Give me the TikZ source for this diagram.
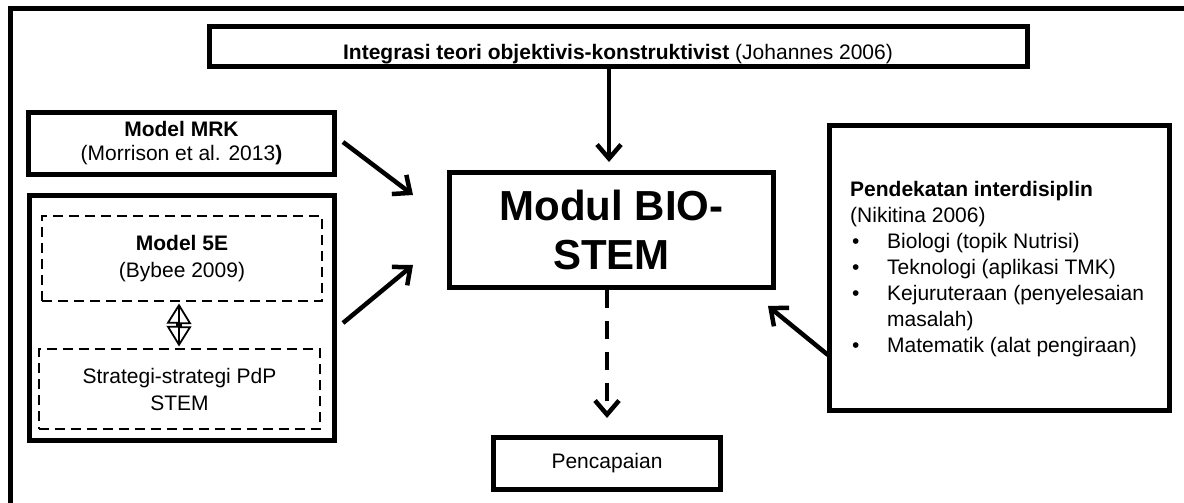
\documentclass[tikz,border=0pt]{standalone}
\usepackage{fontspec}
\setmainfont{Liberation Sans}
\usetikzlibrary{arrows.meta, positioning, calc}

\begin{document}
\begin{tikzpicture}[x=1pt, y=-1pt,
	kotak/.style={draw, line width=5pt, inner sep=0pt, align=center,
		font=\fontsize{21}{24}\selectfont},
	kotakputus/.style={draw, line width=2.5pt, dash pattern=on 10pt off 6pt,
		inner sep=0pt, align=center, font=\fontsize{21}{27}\selectfont},
	anak/.style={line width=4.5pt, -{Straight Barb[length=14pt, width=24pt]}},
	]
	\useasboundingbox (0,0) rectangle (1184,503);
	% bingkai luar
	\draw[line width=5pt] (1190,9) -- (10,9) -- (10,510);
	% kotak-kotak
	\node[kotak, minimum width=818, minimum height=40, text height=28pt, text depth=2pt]
		(integ) at (618,47) {\textbf{Integrasi teori objektivis-konstruktivist} (Johannes 2006)};
	\node[kotak, minimum width=306, minimum height=62]
		(mrk) at (181.5,143.5) {\textbf{Model MRK}\\(Morrison et al. 2013\textbf{)}};
	\node[kotak, minimum width=305, minimum height=245] (grp5e) at (182,318) {};
	\node[kotakputus, minimum width=280, minimum height=85]
		(m5e) at (182,258.5) {\textbf{Model 5E}\\(Bybee 2009)};
	\node[kotakputus, minimum width=281, minimum height=80]
		(strat) at (179.5,389) {Strategi-strategi PdP\\STEM};
	\node[kotak, minimum width=324, minimum height=115, font=\fontsize{42}{49}\selectfont\bfseries]
		(modul) at (611.5,230) {Modul BIO-\\STEM};
	\node[kotak, minimum width=227, minimum height=52] (pencap) at (607,463.5) {Pencapaian};
	\node[kotak, minimum width=340, minimum height=285] (pend) at (999.5,268) {};
	\node[anchor=north west, inner sep=0pt, align=left, font=\fontsize{21}{26}\selectfont]
		(pendteks) at (850,181.5) {\textbf{Pendekatan interdisiplin}\\
		(Nikitina 2006)\\
		\hspace*{2pt}\makebox[35pt][l]{\textbullet}Biologi (topik Nutrisi)\\
		\hspace*{2pt}\makebox[35pt][l]{\textbullet}Teknologi (aplikasi TMK)\\
		\hspace*{2pt}\makebox[35pt][l]{\textbullet}Kejuruteraan (penyelesaian\\
		\hspace*{37pt}masalah)\\
		\hspace*{2pt}\makebox[35pt][l]{\textbullet}Matematik (alat pengiraan)};
	% anak panah
	\draw[anak] ($(integ.south)+(-9,0)$) -- ($(modul.north)+(-2.5,-8)$);
	\draw[anak] ($(mrk.east)+(6,-1.5)$) -- ($(modul.west)+(-34,-35)$);
	\draw[anak] ($(grp5e.east)+(6,5)$) -- ($(modul.west)+(-34,35)$);
	\draw[anak] ($(pend.west)+(1,87)$) -- ($(modul.south east)+(-8,16)$);
	\draw[anak, dash pattern=on 18pt off 13pt] ($(modul.south)+(-4.5,0)$) -- ($(pencap.north)+(0,-17)$);
	% anak panah dua hala
	\coordinate (dpA) at ($(m5e.south)+(-3,3)$);
	\coordinate (dpB) at ($(strat.north)+(-0.5,-3)$);
	\draw[line width=1.8pt, line join=miter]
		(dpA) -- ++(11,18) -- ++(-9,0) -- ++(0,4) -- ++(9,0) -- (dpB)
		-- ++(-11,-18) -- ++(9,0) -- ++(0,-4) -- ++(-9,0) -- cycle;
	\draw[line width=1.8pt] (dpA) -- (dpB);
\end{tikzpicture}
\end{document}
